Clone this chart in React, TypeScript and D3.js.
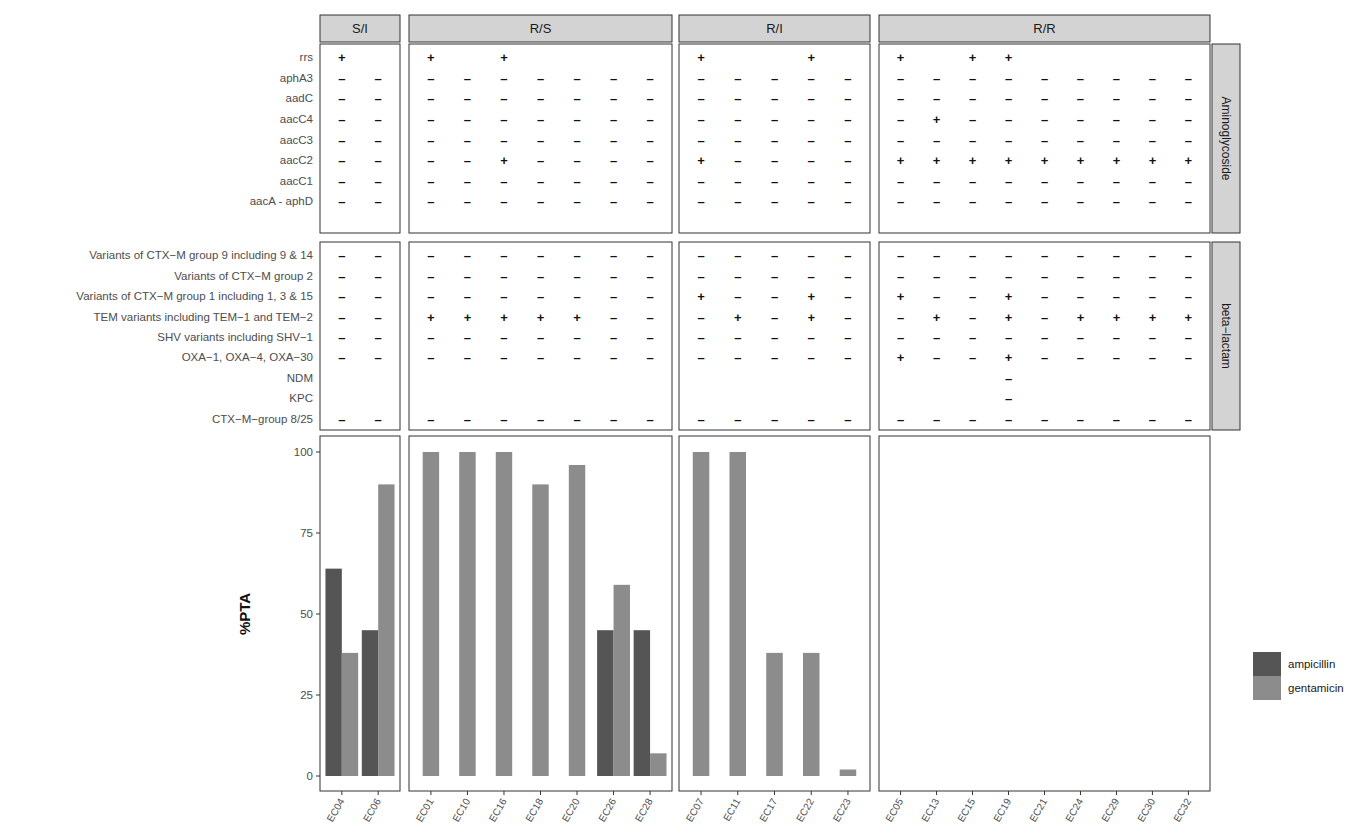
import React from "react";
import * as d3 from "d3";

const groups = ["S/I", "R/S", "R/I", "R/R"];
const isolates = [
  ["EC04", "EC06"],
  ["EC01", "EC10", "EC16", "EC18", "EC20", "EC26", "EC28"],
  ["EC07", "EC11", "EC17", "EC22", "EC23"],
  ["EC05", "EC13", "EC15", "EC19", "EC21", "EC24", "EC29", "EC30", "EC32"],
];
const aminoGenes = ["rrs", "aphA3", "aadC", "aacC4", "aacC3", "aacC2", "aacC1", "aacA - aphD", ""];
const aminoCalls = [
  "+. +.+.... +..+. +.++.....",
  "-- ------- ----- ---------",
  "-- ------- ----- ---------",
  "-- ------- ----- -+-------",
  "-- ------- ----- ---------",
  "-- --+---- +---- +++++++++",
  "-- ------- ----- ---------",
  "-- ------- ----- ---------",
  ".. ....... ..... .........",
];
const betaGenes = [
  "Variants of CTX\u2212M group 9 including 9 & 14",
  "Variants of CTX\u2212M group 2",
  "Variants of CTX\u2212M group 1 including 1, 3 & 15",
  "TEM variants including TEM\u22121 and TEM\u22122",
  "SHV variants including SHV\u22121",
  "OXA\u22121, OXA\u22124, OXA\u221230",
  "NDM",
  "KPC",
  "CTX\u2212M\u2212group 8/25",
];
const betaCalls = [
  "-- ------- ----- ---------",
  "-- ------- ----- ---------",
  "-- ------- +--+- +--+-----",
  "-- +++++-- -+-+- -+-+-++++",
  "-- ------- ----- ---------",
  "-- ------- ----- +--+-----",
  ".. ....... ..... ...-.....",
  ".. ....... ..... ...-.....",
  "-- ------- ----- ---------",
];
const ampicillin: Record<string, number> = { EC04: 64, EC06: 45, EC26: 45, EC28: 45 };
const gentamicin: Record<string, number> = {
  EC04: 38, EC06: 90, EC01: 100, EC10: 100, EC16: 100, EC18: 90, EC20: 96, EC26: 59, EC28: 7,
  EC07: 100, EC11: 100, EC17: 38, EC22: 38, EC23: 2,
};
const yTicks = [0, 25, 50, 75, 100];
const drugs = ["ampicillin", "gentamicin"];
const colors = ["#555555", "#8c8c8c"];

const panelX = [[320, 400], [409, 672], [679, 870], [879, 1210]];
const FONT = "'Liberation Sans', Arial, sans-serif";

export default function App() {
  const y = d3.scaleLinear().domain([0, 100]).range([776, 452]);
  const rowTop = { amino: [44, 233], beta: [242, 430] };
  const rowScale = (r: number[]) => d3.scalePoint<number>().domain(d3.range(9)).range([r[0], r[1]]).padding(0.6);
  const ya = rowScale(rowTop.amino);
  const yb = rowScale(rowTop.beta);
  const els: any[] = [];
  groups.forEach((g, gi) => {
    const [x0, x1] = panelX[gi];
    const ids = isolates[gi];
    const x = d3.scalePoint<string>().domain(ids).range([x0, x1]).padding(0.6);
    const step = x.step();
    els.push(<rect key={"s" + gi} x={x0} y={15} width={x1 - x0} height={27} fill="#d3d3d3" stroke="#333" strokeWidth={1} />);
    els.push(<text key={"st" + gi} x={(x0 + x1) / 2} y={33} textAnchor="middle" fontSize={13} fill="#1a1a1a">{g}</text>);
    const panels: [number[], string[], any][] = [[rowTop.amino, aminoCalls, ya], [rowTop.beta, betaCalls, yb]];
    panels.forEach(([r, calls, ys], pi) => {
      els.push(<rect key={`p${gi}-${pi}`} x={x0} y={r[0]} width={x1 - x0} height={r[1] - r[0]} fill="white" stroke="#333" />);
      calls.forEach((row, ri) => {
        const seg = row.split(" ")[gi];
        ids.forEach((id, ii) => {
          const c = seg[ii];
          if (c === ".") return;
          els.push(<text key={`c${gi}-${pi}-${ri}-${ii}`} x={x(id)!} y={ys(ri)! + 6} textAnchor="middle" fontSize={13} fontWeight="bold" fill="#111" fontFamily={FONT}>{c === "-" ? "\u2013" : "+"}</text>);
        });
      });
    });
    els.push(<rect key={"b" + gi} x={x0} y={436} width={x1 - x0} height={355} fill="white" stroke="#333" />);
    const bw = step * 0.9 / 2;
    ids.forEach((id) => {
      const vals = [ampicillin[id], gentamicin[id]];
      const present = vals.map((v, i) => (v !== undefined ? i : -1)).filter((i) => i >= 0);
      present.forEach((di, k) => {
        const off = present.length === 2 ? (k === 0 ? -bw : 0) : -bw / 2;
        els.push(<rect key={`bar${id}${di}`} x={x(id)! + off} y={y(vals[di])} width={bw} height={y(0) - y(vals[di])} fill={colors[di]} />);
      });
      els.push(<line key={"xt" + id} x1={x(id)!} x2={x(id)!} y1={791} y2={795} stroke="#333" />);
      els.push(<text key={"xl" + id} transform={`translate(${x(id)! + 3},${801}) rotate(-60)`} textAnchor="end" fontSize={10} fill="#4d4d4d">{id}</text>);
    });
  });
  aminoGenes.forEach((gname, i) => els.push(<text key={"ga" + i} x={313} y={ya(i)! + 5} textAnchor="end" fontSize={11.5} fill="#4d4d4d">{gname}</text>));
  betaGenes.forEach((gname, i) => els.push(<text key={"gb" + i} x={313} y={yb(i)! + 5} textAnchor="end" fontSize={11.5} fill="#4d4d4d">{gname}</text>));
  yTicks.forEach((t) => {
    els.push(<line key={"yt" + t} x1={316} x2={320} y1={y(t)} y2={y(t)} stroke="#333" />);
    els.push(<text key={"ytl" + t} x={313} y={y(t) + 4} textAnchor="end" fontSize={11.5} fill="#4d4d4d">{t}</text>);
  });
  els.push(<text key="ylab" transform="translate(250,614) rotate(-90)" textAnchor="middle" fontSize={15} fontWeight="bold" fill="#111">%PTA</text>);
  const rs: [number[], string][] = [[rowTop.amino, "Aminoglycoside"], [rowTop.beta, "beta\u2212lactam"]];
  rs.forEach(([r, lab], i) => {
    els.push(<rect key={"rs" + i} x={1212} y={r[0]} width={28} height={r[1] - r[0]} fill="#d3d3d3" stroke="#333" />);
    els.push(<text key={"rst" + i} transform={`translate(${1222},${(r[0] + r[1]) / 2}) rotate(90)`} textAnchor="middle" fontSize={12} fill="#1a1a1a">{lab}</text>);
  });
  drugs.forEach((dname, i) => {
    els.push(<rect key={"lg" + i} x={1253} y={652 + i * 24} width={28} height={24} fill={colors[i]} />);
    els.push(<text key={"lt" + i} x={1288} y={668 + i * 24} fontSize={11.5} fill="#1a1a1a">{dname}</text>);
  });
  return (
    <svg width={1346} height={833} style={{ display: "block", position: "absolute", left: 0, top: 0, fontFamily: FONT }}>
      <rect width={1346} height={833} fill="white" />
      <g>{els}</g>
    </svg>
  );
}
